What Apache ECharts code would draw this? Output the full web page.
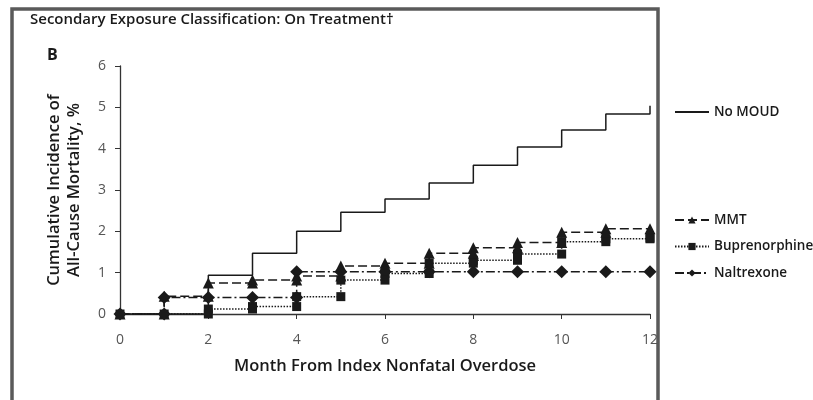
<!DOCTYPE html>
<html>
<head>
<meta charset="utf-8">
<script src="https://cdn.jsdelivr.net/npm/echarts@6/dist/echarts.min.js"></script>
<style>html,body{margin:0;padding:0;background:#fff}#c{width:813px;height:400px}</style>
</head>
<body>
<div id="c"></div>
<script>
var months = [0, 1, 2, 3, 4, 5, 6, 7, 8, 9, 10, 11, 12];
var noMoud = [0, 0, 0.94, 1.47, 2.0, 2.46, 2.78, 3.17, 3.6, 4.04, 4.45, 4.84, 5.04];
var mmt = [0, 0.43, 0.75, 0.82, 0.92, 1.16, 1.23, 1.47, 1.6, 1.73, 1.98, 2.06, 2.06];
var bupe = [0, 0, 0.12, 0.18, 0.42, 0.82, 0.98, 1.23, 1.3, 1.45, 1.75, 1.82, 1.84];
var naltrex = [0, 0.4, 0.4, 0.4, 1.02, 1.02, 1.02, 1.02, 1.02, 1.02, 1.02, 1.02, 1.02];
var xTicks = [0, 2, 4, 6, 8, 10, 12];
var yTicks = [0, 1, 2, 3, 4, 5, 6];

function pts(vals) { return months.map(function (m, i) { return [m, vals[i]]; }); }
function prevPts(vals) {
  var out = [];
  for (var i = 1; i < months.length; i++) {
    if (vals[i - 1] !== vals[i]) out.push([months[i], vals[i - 1]]);
  }
  return out;
}
var ink = '#1a1a1a';
var font = 'Open Sans';
function lineSeries(name, vals, type, symbol, size, showSym) {
  return {
    name: name, type: 'line', step: 'end', data: pts(vals),
    symbol: showSym ? symbol : 'none', symbolSize: size, showAllSymbol: true,
    lineStyle: { color: ink, width: 1.5, type: type },
    itemStyle: { color: ink, borderColor: ink, borderWidth: 0, opacity: 1 },
    emphasis: { disabled: true }, animation: false, z: 3
  };
}
function prevSeries(vals, symbol, size) {
  return {
    type: 'scatter', data: prevPts(vals), symbol: symbol, symbolSize: size,
    itemStyle: { color: ink, opacity: 1 }, animation: false, emphasis: { disabled: true }, z: 4
  };
}
var legendText = { fontFamily: font, fontSize: 13.5, fontWeight: 600, color: ink };
var chart = echarts.init(document.getElementById('c'));
chart.setOption({
  backgroundColor: '#fff',
  animation: false,
  graphic: [
    { type: 'rect', z: -10, shape: { x: 12, y: 9, width: 646, height: 400 },
      style: { fill: 'none', stroke: '#5a5a5a', lineWidth: 3.5 } },
    { type: 'text', left: 30, top: 12,
      style: { text: 'Secondary Exposure Classification: On Treatment\u2020', font: '600 15px "Open Sans"', fill: ink } },
    { type: 'text', left: 47, top: 47,
      style: { text: 'B', font: 'bold 16px "Open Sans"', fill: ink } }
  ],
  grid: { left: 120, right: 163, top: 66, bottom: 86, containLabel: false },
  legend: [
    { data: [{ name: 'No MOUD', itemStyle: { opacity: 0 } }], orient: 'vertical', left: 669, top: 100,
      itemWidth: 34, itemHeight: 9, textStyle: legendText },
    { data: ['MMT', 'Buprenorphine', 'Naltrexone'], orient: 'vertical', left: 669, top: 208,
      itemWidth: 34, itemHeight: 9, itemGap: 12.5, textStyle: legendText }
  ],
  xAxis: {
    type: 'value', min: 0, max: 12, interval: 2,
    name: 'Month From Index Nonfatal Overdose', nameLocation: 'middle', nameGap: 44,
    nameTextStyle: { fontFamily: font, fontSize: 16.5, fontWeight: 600, color: ink },
    axisLine: { lineStyle: { color: '#333', width: 1.3 } },
    axisTick: { length: 5, lineStyle: { color: '#333' } },
    axisLabel: { margin: 19, fontFamily: font, fontSize: 14, color: '#555',
      formatter: function (v) { return xTicks.indexOf(v) >= 0 ? String(v) : ''; } },
    splitLine: { show: false }
  },
  yAxis: {
    type: 'value', min: 0, max: 6, interval: 1,
    name: 'Cumulative Incidence of\nAll-Cause Mortality, %', nameLocation: 'middle', nameGap: 36,
    nameTextStyle: { fontFamily: font, fontSize: 16.5, fontWeight: 600, color: ink, lineHeight: 20 },
    axisLine: { show: true, lineStyle: { color: '#333', width: 1.3 } },
    axisTick: { show: true, length: 5, lineStyle: { color: '#333' } },
    axisLabel: { margin: 14, fontFamily: font, fontSize: 14, color: '#555',
      formatter: function (v) { return yTicks.indexOf(v) >= 0 ? String(v) : ''; } },
    splitLine: { show: false }
  },
  series: [
    lineSeries('No MOUD', noMoud, 'solid', 'none', 0, false),
    lineSeries('MMT', mmt, [9, 4], 'triangle', 11, true),
    lineSeries('Buprenorphine', bupe, [1.5, 1.5], 'rect', 9, true),
    lineSeries('Naltrexone', naltrex, [9, 3, 2, 3], 'diamond', 13, true),
    prevSeries(mmt, 'triangle', 11),
    prevSeries(bupe, 'rect', 9),
    prevSeries(naltrex, 'diamond', 13)
  ]
});
</script>
</body>
</html>
